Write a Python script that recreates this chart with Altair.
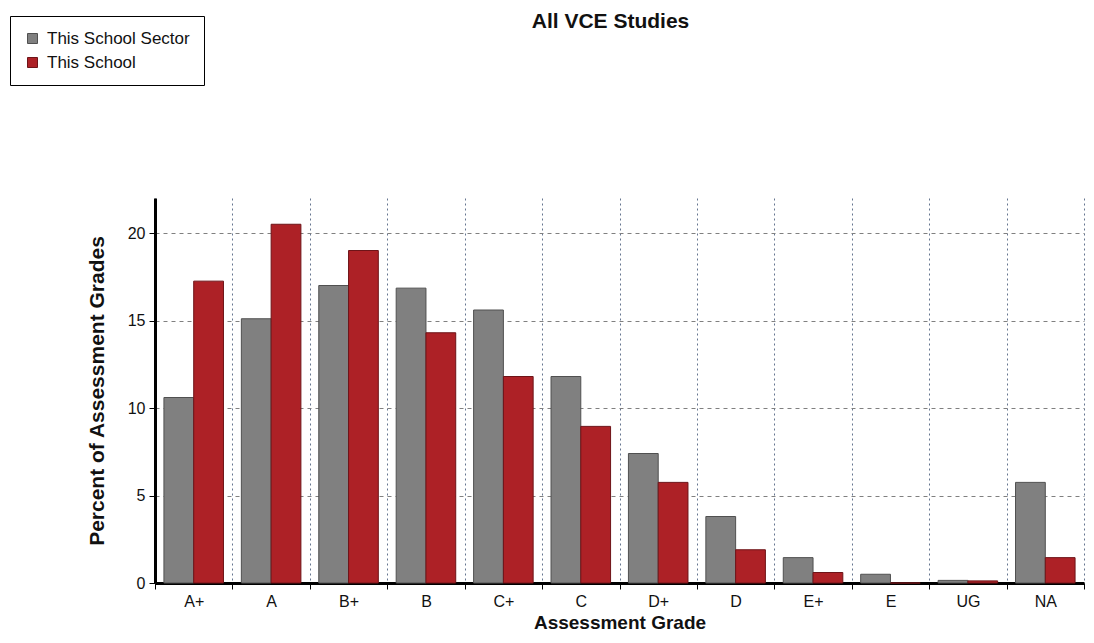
import altair as alt
import pandas as pd

grades = ["A+", "A", "B+", "B", "C+", "C", "D+", "D", "E+", "E", "UG", "NA"]
sector = [10.6, 15.1, 17.0, 16.85, 15.6, 11.8, 7.4, 3.8, 1.45, 0.5, 0.15, 5.75]
school = [17.25, 20.5, 19.0, 14.3, 11.8, 8.95, 5.75, 1.9, 0.6, 0.0, 0.12, 1.45]
series = ["This School Sector", "This School"]
fill_colors = ["#808080", "#ad2126"]
edge_colors = ["#505050", "#6e1418"]
y_ticks = [0, 5, 10, 15, 20]

rows = []
for g, s, c in zip(grades, sector, school):
    rows.append({"grade": g, "series": series[0], "value": s})
    rows.append({"grade": g, "series": series[1], "value": c})
df = pd.DataFrame(rows)

FONT = "Liberation Sans"
W = 929
H = 385

chart = alt.Chart(df).mark_bar(strokeWidth=1).encode(
    x=alt.X(
        "grade:N",
        sort=grades,
        scale=alt.Scale(paddingInner=0, paddingOuter=0),
        axis=alt.Axis(
            title="Assessment Grade",
            tickBand="extent",
            labelAngle=0,
            labelFont=FONT,
            labelFontSize=16,
            labelColor="#111",
            labelPadding=4,
            labelOverlap=False,
            labelBound=False,
            tickSize=6,
            tickColor="#000",
            tickWidth=1,
            domainColor="#000",
            domainWidth=3,
            grid=True,
            gridColor="#65758f",
            gridDash=[2, 3],
            gridWidth=1,
            titleFont=FONT,
            titleFontSize=19,
            titleFontWeight="bold",
            titleColor="#111",
            titlePadding=4,
        ),
    ),
    xOffset=alt.XOffset(
        "series:N",
        sort=series,
        scale=alt.Scale(domain=series, paddingOuter=0.3, paddingInner=0),
    ),
    y=alt.Y(
        "value:Q",
        scale=alt.Scale(domain=[0, 22], nice=False),
        axis=alt.Axis(
            title="Percent of Assessment Grades",
            values=y_ticks,
            labelFont=FONT,
            labelFontSize=16,
            labelColor="#111",
            labelPadding=4,
            tickSize=6,
            tickColor="#000",
            domainColor="#000",
            domainWidth=3,
            grid=True,
            gridColor="#808080",
            gridDash=[4, 4],
            gridWidth=1,
            titleFont=FONT,
            titleFontSize=21,
            titleFontWeight="bold",
            titleColor="#111",
            titlePadding=20,
        ),
    ),
    color=alt.Color(
        "series:N",
        sort=series,
        scale=alt.Scale(domain=series, range=fill_colors),
        legend=alt.Legend(
            title=None,
            orient="none",
            legendX=-145,
            legendY=-182,
            direction="vertical",
            fillColor="#ffffff",
            strokeColor="#000000",
            padding=14,
            labelFont=FONT,
            labelFontSize=17,
            labelColor="#111",
            symbolType="square",
            symbolSize=100,
            symbolStrokeColor="#222",
            symbolStrokeWidth=1,
            rowPadding=6,
            labelOffset=6,
        ),
    ),
    stroke=alt.Stroke(
        "series:N",
        sort=series,
        scale=alt.Scale(domain=series, range=edge_colors),
        legend=None,
    ),
).properties(
    width=W,
    height=H,
    background="#ffffff",
    autosize=alt.AutoSizeParams(type="none"),
    padding={"left": 147, "top": 190, "right": 2, "bottom": 50},
    title=alt.TitleParams(
        "All VCE Studies",
        font=FONT,
        fontSize=21,
        fontWeight="bold",
        color="#111",
        anchor="middle",
        frame="group",
        dx=-9,
        dy=16,
        offset=0,
    ),
).configure_view(strokeWidth=0, strokeOpacity=0)

chart.save("out.html", embed_options={"renderer": "svg", "actions": False})
